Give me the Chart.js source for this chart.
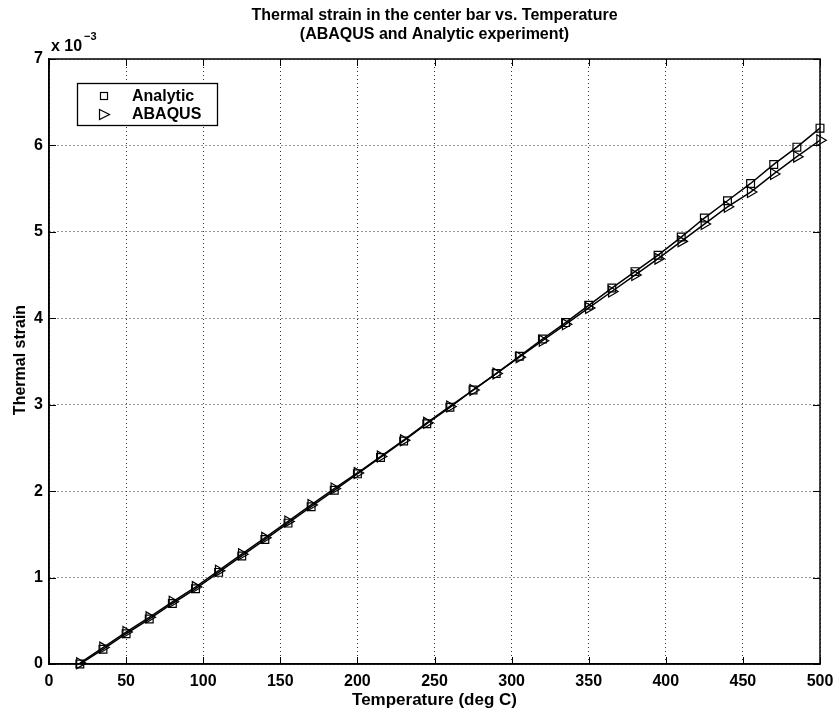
<!DOCTYPE html>
<html>
<head>
<meta charset="utf-8">
<title>Thermal strain vs. Temperature</title>
<script src="https://cdn.jsdelivr.net/npm/chart.js@4/dist/chart.umd.min.js"></script>
<style>
  html, body { margin: 0; padding: 0; background: #fff; }
  #wrap { width: 838px; height: 713px; }
</style>
</head>
<body>
<div id="wrap"><canvas id="strainChart" width="838" height="713"></canvas></div>
<script>
// temperatures (deg C) and thermal strain in units of 1e-3
const temperature = [20, 35, 50, 65, 80, 95, 110, 125, 140, 155, 170, 185, 200, 215, 230, 245, 260,
  275, 290, 305, 320, 335, 350, 365, 380, 395, 410, 425, 440, 455, 470, 485, 500];
const analyticStrain = [0.00, 0.17, 0.35, 0.52, 0.70, 0.87, 1.06, 1.25, 1.44, 1.63, 1.82, 2.01, 2.20,
  2.39, 2.58, 2.78, 2.97, 3.17, 3.36, 3.56, 3.76, 3.95, 4.15, 4.35, 4.54, 4.73, 4.94, 5.16, 5.36,
  5.56, 5.78, 5.98, 6.20];
const abaqusStrain = [0.01, 0.19, 0.37, 0.54, 0.72, 0.89, 1.08, 1.27, 1.46, 1.65, 1.84, 2.03, 2.21,
  2.40, 2.59, 2.79, 2.98, 3.17, 3.36, 3.55, 3.74, 3.93, 4.12, 4.31, 4.50, 4.69, 4.89, 5.09, 5.29,
  5.46, 5.67, 5.87, 6.06];
const xTicks = [0, 50, 100, 150, 200, 250, 300, 350, 400, 450, 500];
const yTicks = [0, 1, 2, 3, 4, 5, 6, 7];
const seriesNames = ['Analytic', 'ABAQUS'];

const FAMILY = '"Liberation Sans", Arial, sans-serif';
const font = size => 'bold ' + size + 'px ' + FAMILY;

function toPoints(ys) {
  return temperature.map((t, i) => ({ x: t, y: ys[i] }));
}

// frame, inward ticks, titles, exponent and legend
const decorations = {
  id: 'decorations',
  afterDraw(chart) {
    const ctx = chart.ctx;
    const a = chart.chartArea;
    const xs = chart.scales.x, ys = chart.scales.y;
    ctx.save();
    ctx.strokeStyle = '#000';
    ctx.lineWidth = 1.5;
    ctx.strokeRect(a.left, a.top, a.right - a.left, a.bottom - a.top);

    ctx.lineWidth = 1;
    ctx.beginPath();
    xTicks.forEach(v => {
      const px = Math.round(xs.getPixelForValue(v)) + 0.5;
      ctx.moveTo(px, a.bottom); ctx.lineTo(px, a.bottom - 7);
      ctx.moveTo(px, a.top); ctx.lineTo(px, a.top + 7);
    });
    yTicks.forEach(v => {
      const py = Math.round(ys.getPixelForValue(v)) + 0.5;
      ctx.moveTo(a.left, py); ctx.lineTo(a.left + 7, py);
      ctx.moveTo(a.right, py); ctx.lineTo(a.right - 7, py);
    });
    ctx.stroke();

    ctx.fillStyle = '#000';
    ctx.font = font(16);
    ctx.textAlign = 'center';
    ctx.textBaseline = 'middle';
    const cx = (a.left + a.right) / 2;
    ctx.fillText('Thermal strain in the center bar vs. Temperature', cx, 16);
    ctx.fillText('(ABAQUS and Analytic experiment)', cx, 35);
    ctx.font = font(17);
    ctx.fillText('Temperature (deg C)', cx, 700);

    ctx.save();
    ctx.font = font(16);
    ctx.translate(21, 360);
    ctx.rotate(-Math.PI / 2);
    ctx.fillText('Thermal strain', 0, 0);
    ctx.restore();

    // axis multiplier
    ctx.textAlign = 'left';
    ctx.font = font(16);
    ctx.fillText('x 10', 51, 47);
    ctx.font = font(11);
    ctx.fillText('\u22123', 84, 37);

    // legend
    const lx = 77, ly = 83, lw = 140, lh = 42;
    ctx.fillStyle = '#fff';
    ctx.fillRect(lx, ly, lw, lh);
    ctx.lineWidth = 1.3;
    ctx.strokeRect(lx + 0.5, ly + 0.5, lw, lh);
    ctx.lineWidth = 1.2;
    ctx.strokeStyle = '#000';
    ctx.strokeRect(100.5, 92.5, 7, 7);
    ctx.beginPath();
    ctx.moveTo(99.5, 109.5);
    ctx.lineTo(109.5, 114.5);
    ctx.lineTo(99.5, 119.5);
    ctx.closePath();
    ctx.stroke();
    ctx.fillStyle = '#000';
    ctx.font = font(16);
    ctx.fillText(seriesNames[0], 132, 97);
    ctx.fillText(seriesNames[1], 132, 115);
    ctx.restore();
  }
};

const common = {
  borderColor: '#000',
  borderWidth: 1.5,
  pointBorderWidth: 1.2,
  pointBorderColor: '#000',
  pointBackgroundColor: 'rgba(0,0,0,0)',
  tension: 0,
  clip: false
};

new Chart(document.getElementById('strainChart'), {
  type: 'line',
  data: {
    datasets: [
      Object.assign({
        label: seriesNames[0],
        data: toPoints(analyticStrain),
        pointStyle: 'rect',
        pointRadius: 5.5
      }, common),
      Object.assign({
        label: seriesNames[1],
        data: toPoints(abaqusStrain),
        pointStyle: 'triangle',
        pointRotation: 90,
        pointRadius: 6.3
      }, common)
    ]
  },
  options: {
    responsive: false,
    animation: false,
    layout: { padding: { top: 59, right: 18, bottom: 0, left: 0 } },
    plugins: {
      legend: { display: false },
      tooltip: { enabled: false },
      title: { display: false }
    },
    scales: {
      x: {
        type: 'linear',
        min: 0,
        max: 500,
        afterBuildTicks: s => { s.ticks = xTicks.map(v => ({ value: v })); },
        afterFit: s => { s.height = 49; s.paddingLeft = 0; s.paddingRight = 0; },
        grid: { color: '#333', lineWidth: 1, drawTicks: false },
        border: { display: true, color: '#000', width: 1.5, dash: [1, 3] },
        ticks: {
          color: '#000',
          font: { family: FAMILY, size: 16, weight: 'bold' },
          padding: 8,
          maxRotation: 0
        }
      },
      y: {
        type: 'linear',
        min: 0,
        max: 7,
        afterBuildTicks: s => { s.ticks = yTicks.map(v => ({ value: v })); },
        afterFit: s => { s.width = 49; s.paddingTop = 0; s.paddingBottom = 0; },
        grid: { color: '#333', lineWidth: 1, drawTicks: false },
        border: { display: true, color: '#000', width: 1.5, dash: [1, 3] },
        ticks: {
          color: '#000',
          font: { family: FAMILY, size: 16, weight: 'bold' },
          padding: 6
        }
      }
    }
  },
  plugins: [decorations]
});
</script>
</body>
</html>
